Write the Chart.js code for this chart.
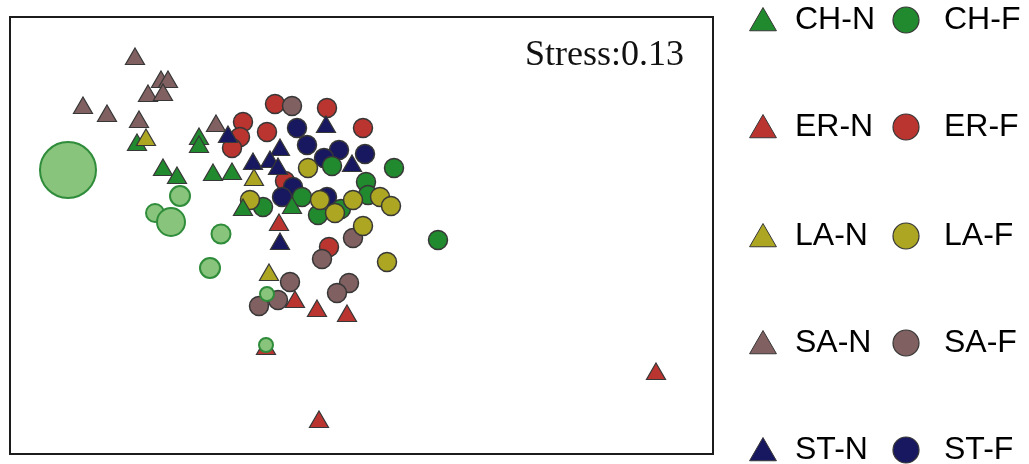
<!DOCTYPE html>
<html>
<head>
<meta charset="utf-8">
<script src="https://cdn.jsdelivr.net/npm/chart.js@4/dist/chart.umd.min.js"></script>
<style>
  html, body { margin: 0; padding: 0; background: #ffffff; }
  canvas { display: block; }
</style>
</head>
<body>
<canvas id="nmds" width="1029" height="464"></canvas>
<script>
// NMDS ordination scores (NMDS1, NMDS2) per group: N = triangles, F = circles
const groups = ['CH', 'ER', 'LA', 'SA', 'ST'];
const stressValue = '0.13';

const CH_N = [[-1.115, 0.45], [-0.805, 0.48], [-0.805, 0.44], [-0.985, 0.325], [-0.915, 0.285],
              [-0.735, 0.30], [-0.64, 0.305], [-0.585, 0.125], [-0.34, 0.135]];
const CH_F = [[-0.14, 0.345], [0.17, 0.335], [0.03, 0.265], [-0.29, 0.19], [0.04, 0.20],
              [-0.485, 0.14], [-0.21, 0.10], [-0.095, 0.13], [0.39, -0.025]];
const CH_F_pale = [[-1.46, 0.325], [-0.90, 0.195], [-1.025, 0.11], [-0.945, 0.065],
                   [-0.695, 0.005], [-0.75, -0.165], [-0.465, -0.295], [-0.47, -0.55]];
const ER_N = [[-0.405, 0.05], [-0.325, -0.335], [-0.215, -0.38], [-0.065, -0.405],
              [1.48, -0.695], [-0.205, -0.935], [-0.47, -0.57]];
const ER_F = [[-0.425, 0.655], [-0.165, 0.635], [0.015, 0.535], [-0.585, 0.565], [-0.465, 0.515],
              [-0.60, 0.49], [-0.64, 0.435], [-0.375, 0.27], [-0.155, -0.06]];
const LA_N = [[-1.07, 0.475], [-0.53, 0.275], [-0.455, -0.20]];
const LA_F = [[-0.26, 0.335], [-0.55, 0.175], [-0.20, 0.175], [-0.035, 0.175], [0.10, 0.19],
              [0.155, 0.145], [-0.125, 0.11], [0.015, 0.045], [0.135, -0.135]];
const SA_N = [[-1.125, 0.88], [-0.995, 0.765], [-0.96, 0.765], [-1.06, 0.695], [-0.985, 0.70],
              [-1.385, 0.635], [-1.265, 0.595], [-1.105, 0.565], [-0.72, 0.545]];
const SA_F = [[-0.34, 0.645], [-0.035, -0.015], [-0.19, -0.12], [-0.35, -0.235], [-0.055, -0.24],
              [-0.115, -0.29], [-0.41, -0.325], [-0.505, -0.355]];
const ST_N = [[-0.17, 0.54], [-0.66, 0.49], [-0.40, 0.425], [-0.535, 0.355], [-0.45, 0.365],
              [-0.41, 0.33], [-0.04, 0.345], [-0.40, -0.045]];
const ST_F = [[-0.315, 0.535], [-0.265, 0.45], [-0.105, 0.425], [0.025, 0.405], [-0.18, 0.385],
              [-0.335, 0.24], [-0.39, 0.19], [-0.165, 0.19]];

// group colours
const fills = {
  CH: 'rgb(34,138,46)',
  ER: 'rgb(186,52,48)',
  LA: 'rgb(172,166,34)',
  SA: 'rgb(128,96,96)',
  ST: 'rgb(24,24,96)'
};
const edge = 'rgb(55,55,55)';

const toPts = arr => arr.map(([x, y]) => ({ x, y }));

function triSet(g, pts, order) {
  return {
    label: g + '-N', data: toPts(pts), order,
    pointStyle: 'triangle', pointRadius: 11, pointHoverRadius: 11,
    backgroundColor: fills[g], borderColor: edge, borderWidth: 1.2
  };
}
function dotSet(g, pts, order) {
  return {
    label: g + '-F', data: toPts(pts), order,
    pointStyle: 'circle', pointRadius: 9.5, pointHoverRadius: 9.5,
    backgroundColor: fills[g], borderColor: edge, borderWidth: 1.5
  };
}

const datasets = [
  dotSet('ER', ER_F, 10),
  dotSet('SA', SA_F, 9),
  dotSet('ST', ST_F, 8),
  dotSet('CH', CH_F, 7),
  dotSet('LA', LA_F, 6),
  triSet('ER', ER_N, 5),
  triSet('SA', SA_N, 4),
  triSet('CH', CH_N, 3),
  triSet('ST', ST_N, 2),
  triSet('LA', LA_N, 1),
  {
    label: 'CH-F (pale)', data: toPts(CH_F_pale), order: 0,
    pointStyle: 'circle',
    pointRadius: [28, 10, 9, 14, 9.5, 10, 7, 7],
    pointHoverRadius: [28, 10, 9, 14, 9.5, 10, 7, 7],
    backgroundColor: 'rgb(136,196,124)', borderColor: 'rgb(46,140,58)', borderWidth: 2
  }
];

// frame, stress annotation and two-column key drawn on the canvas
const decorations = {
  id: 'decorations',
  afterDatasetsDraw(chart) {
    const { ctx, chartArea: a } = chart;
    ctx.save();
    ctx.strokeStyle = '#1c1c1c';
    ctx.lineWidth = 2;
    ctx.strokeRect(a.left, a.top, a.right - a.left, a.bottom - a.top);

    ctx.fillStyle = '#111';
    ctx.font = '36px "Liberation Serif", "Times New Roman", serif';
    ctx.textAlign = 'left';
    ctx.textBaseline = 'alphabetic';
    ctx.fillText('Stress:' + stressValue, 525, 65);

    const rowY = [20, 127, 236, 343, 450];
    ctx.font = '32px "Liberation Sans", Arial, sans-serif';
    ctx.textBaseline = 'middle';
    groups.forEach((g, i) => {
      const y = rowY[i];
      const nSet = chart.data.datasets.find(d => d.label === g + '-N');
      const fSet = chart.data.datasets.find(d => d.label === g + '-F');

      ctx.fillStyle = nSet.backgroundColor;
      ctx.strokeStyle = nSet.borderColor;
      ctx.lineWidth = 1;
      Chart.helpers.drawPoint(ctx, { pointStyle: 'triangle', radius: 15.5, rotation: 0, borderWidth: 1 }, 763, y + 3);
      ctx.fillStyle = '#000';
      ctx.fillText(nSet.label, 795, y);

      ctx.fillStyle = fSet.backgroundColor;
      ctx.strokeStyle = fSet.borderColor;
      ctx.lineWidth = 1.2;
      Chart.helpers.drawPoint(ctx, { pointStyle: 'circle', radius: 13, rotation: 0, borderWidth: 1.2 }, 906, y);
      ctx.fillStyle = '#000';
      ctx.fillText(fSet.label, 944, y);
    });
    ctx.restore();
  }
};

new Chart(document.getElementById('nmds'), {
  type: 'scatter',
  data: { datasets },
  options: {
    responsive: false,
    animation: false,
    layout: { autoPadding: false, padding: { left: 10, top: 17, right: 316, bottom: 10 } },
    plugins: { legend: { display: false }, tooltip: { enabled: false } },
    scales: {
      x: { type: 'linear', min: -1.75, max: 1.765, display: false },
      y: { type: 'linear', min: -1.095, max: 1.09, display: false }
    }
  },
  plugins: [decorations]
});
</script>
</body>
</html>
